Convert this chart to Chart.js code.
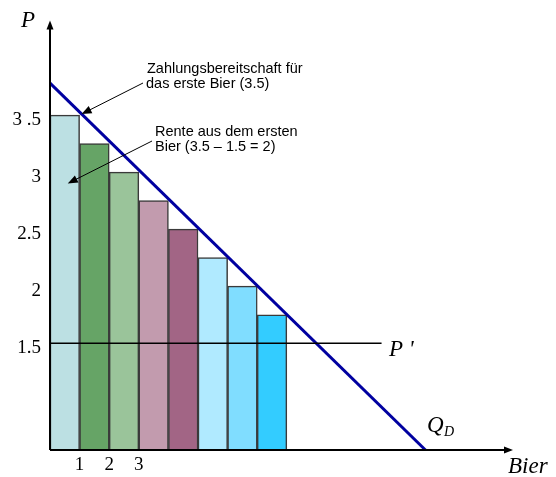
<!DOCTYPE html>
<html>
<head>
<meta charset="utf-8">
<script src="https://cdn.jsdelivr.net/npm/chart.js@4"></script>
<style>
  html, body { margin: 0; padding: 0; background: #fff; }
  #wrap { width: 556px; height: 477px; }
</style>
</head>
<body>
<div id="wrap"><canvas id="chart"></canvas></div>
<script>
// DATA
const beers = [1, 2, 3, 4, 5, 6, 7, 8];
const willingness = [3.5, 3.25, 3.0, 2.75, 2.5, 2.25, 2.0, 1.75];
const barColors = ['#BCE0E3', '#66A466', '#9AC49A', '#C29BAE', '#A26585', '#B0EAFF', '#80DDFF', '#33CCFF'];
const demandQ = [0, 12.7];
const demandP = [3.78, 0.56];
const marketPrice = 1.5;
const priceLineQ = [0, 11.2];
const yTicks = [1.5, 2, 2.5, 3, 3.5];
const yLabels = ['1.5', '2', '2.5', '3', '3 .5'];
const xTicks = [1, 2, 3];

const serif = '"Liberation Serif", "Times New Roman", serif';
const sans = '"Liberation Sans", Arial, sans-serif';

// arrow helper
function arrow(ctx, x1, y1, x2, y2, len, half) {
    const a = Math.atan2(y2 - y1, x2 - x1);
    ctx.beginPath();
    ctx.moveTo(x1, y1);
    ctx.lineTo(x2 - Math.cos(a) * len * 0.8, y2 - Math.sin(a) * len * 0.8);
    ctx.stroke();
    ctx.beginPath();
    ctx.moveTo(x2, y2);
    ctx.lineTo(x2 - Math.cos(a) * len + Math.sin(a) * half, y2 - Math.sin(a) * len - Math.cos(a) * half);
    ctx.lineTo(x2 - Math.cos(a) * len - Math.sin(a) * half, y2 - Math.sin(a) * len + Math.cos(a) * half);
    ctx.closePath();
    ctx.fill();
}

// AXES, ARROWS AND LABELS
const extras = {
    id: 'extras',
    afterDatasetsDraw(chart) {
        const { ctx, chartArea: a, scales: { x, y } } = chart;
        ctx.save();
        ctx.strokeStyle = '#000';
        ctx.fillStyle = '#000';
        ctx.lineWidth = 2;
        arrow(ctx, a.left, a.bottom, a.left, a.top, 9, 3.5);
        arrow(ctx, a.left, a.bottom, a.right, a.bottom, 9, 3.5);

        // annotation arrows
        ctx.lineWidth = 1;
        arrow(ctx, 143, 83, x.getPixelForValue(1) + 2, y.getPixelForValue(3.5) - 1, 10, 4);
        arrow(ctx, 152, 141, x.getPixelForValue(0.6), y.getPixelForValue(2.9), 10, 4);

        ctx.font = '14.5px ' + sans;
        ctx.textAlign = 'left';
        ctx.textBaseline = 'alphabetic';
        ctx.fillText('Zahlungsbereitschaft für', 147, 73);
        ctx.fillText('das erste Bier (3.5)', 146, 88);
        ctx.fillText('Rente aus dem ersten', 155, 136);
        ctx.fillText('Bier (3.5 \u2013 1.5 = 2)', 155, 151);

        ctx.font = 'italic 23px ' + serif;
        ctx.textBaseline = 'middle';
        ctx.fillText('P', 21, 21);
        ctx.fillText('Bier', 508, 467);
        ctx.fillText('P \'', 389, 350);
        ctx.fillText('Q', 427, 426);
        ctx.font = 'italic 14px ' + serif;
        ctx.fillText('D', 444, 432);
        ctx.restore();
    }
};

new Chart(document.getElementById('chart'), {
    type: 'bar',
    data: {
        datasets: [
            {
                type: 'bar',
                data: beers.map((q, i) => ({ x: q - 0.5, y: willingness[i] })),
                backgroundColor: barColors,
                borderColor: '#3a3a3a',
                borderWidth: 1.5,
                borderSkipped: false,
                barPercentage: 1,
                categoryPercentage: 1,
                order: 2
            },
            {
                type: 'line',
                data: demandQ.map((q, i) => ({ x: q, y: demandP[i] })),
                borderColor: '#0000A0',
                borderWidth: 3,
                pointRadius: 0,
                order: 1
            },
            {
                type: 'line',
                data: priceLineQ.map(q => ({ x: q, y: marketPrice })),
                borderColor: '#000',
                borderWidth: 1.5,
                pointRadius: 0,
                order: 0
            }
        ]
    },
    options: {
        responsive: true,
        maintainAspectRatio: false,
        animation: false,
        layout: { padding: { top: 18, right: 43, left: 0, bottom: 0 } },
        plugins: { legend: { display: false }, tooltip: { enabled: false } },
        scales: {
            x: {
                type: 'linear',
                offset: false,
                min: 0,
                max: 15.64,
                grid: { display: false, drawTicks: false },
                border: { display: false },
                afterBuildTicks: s => { s.ticks = xTicks.map(v => ({ value: v })); },
                afterFit: s => { s.height = 27; },
                ticks: {
                    padding: 4,
                    color: '#000',
                    font: { family: serif, size: 19 },
                    callback: v => String(v)
                }
            },
            y: {
                min: 0.564,
                max: 4.33,
                grid: { display: false, drawTicks: false },
                border: { display: false },
                afterBuildTicks: s => { s.ticks = yTicks.map(v => ({ value: v })); },
                afterFit: s => { s.width = 50; },
                ticks: {
                    padding: 9,
                    labelOffset: 5,
                    color: '#000',
                    font: { family: serif, size: 19 },
                    callback: v => yLabels[yTicks.indexOf(v)]
                }
            }
        }
    },
    plugins: [extras]
});
</script>
</body>
</html>
